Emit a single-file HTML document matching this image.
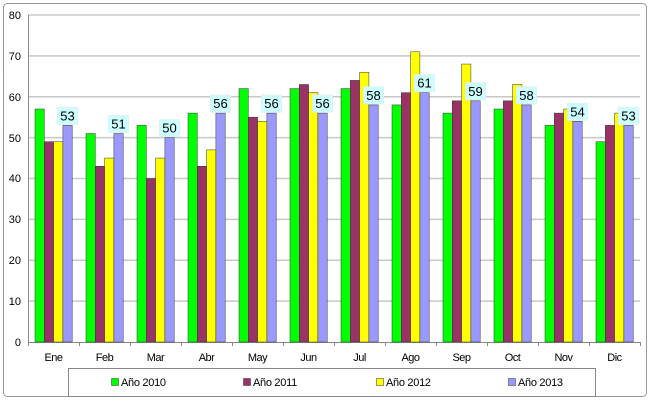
<!DOCTYPE html>
<html><head><meta charset="utf-8"><style>
body{margin:0;background:#fff;}
svg{display:block;font-family:"Liberation Sans",Arial,sans-serif;}
</style></head><body>
<svg id="s" width="650" height="401" viewBox="0 0 650 401">
<rect x="3.5" y="3.5" width="643" height="393" rx="4" fill="#fff" stroke="#999" stroke-width="1"/>
<g id="grid" stroke="#c8c8c8" stroke-width="1.5"></g>
<line x1="28.5" y1="15" x2="28.5" y2="342" stroke="#888"/>
<line x1="28" y1="342.5" x2="640" y2="342.5" stroke="#888"/>
<g id="bars"></g>
<g font-size="11" fill="#000" text-anchor="end">
<text x="21" y="346">0</text><text x="21" y="305">10</text><text x="21" y="264">20</text><text x="21" y="223">30</text><text x="21" y="182">40</text><text x="21" y="142">50</text><text x="21" y="101">60</text><text x="21" y="60">70</text><text x="21" y="19">80</text>
</g>
<g font-size="11" fill="#000" text-anchor="middle" letter-spacing="-0.5">
<text x="53.5" y="361">Ene</text><text x="104.5" y="361">Feb</text><text x="155.5" y="361">Mar</text><text x="206.5" y="361">Abr</text><text x="257.5" y="361">May</text><text x="308.5" y="361">Jun</text><text x="359.5" y="361">Jul</text><text x="410.5" y="361">Ago</text><text x="461.5" y="361">Sep</text><text x="512.5" y="361">Oct</text><text x="563.5" y="361">Nov</text><text x="614.5" y="361">Dic</text>
</g>
<g id="lbl" font-size="13" text-anchor="middle" fill="#000">
<text x="67.5" y="120.4">53</text><text x="118.5" y="128.5">51</text><text x="169.5" y="132.6">50</text><text x="220.5" y="108.1">56</text><text x="271.5" y="108.1">56</text><text x="322.5" y="108.1">56</text><text x="373.5" y="99.9">58</text><text x="424.5" y="87.7">61</text><text x="475.5" y="95.8">59</text><text x="526.5" y="99.9">58</text><text x="577.5" y="116.3">54</text><text x="628.5" y="120.4">53</text>
</g>
<rect x="68.5" y="368.5" width="527" height="28" fill="#fff" stroke="#888"/>
<g font-size="11" fill="#000" letter-spacing="-0.3">
<rect x="111.5" y="378.5" width="7" height="7" fill="#00ff00" stroke="#333" stroke-width="0.5"/><text x="121" y="386">Año 2010</text>
<rect x="243.5" y="378.5" width="7" height="7" fill="#993366" stroke="#333" stroke-width="0.5"/><text x="253" y="386">Año 2011</text>
<rect x="376.5" y="378.5" width="7" height="7" fill="#ffff00" stroke="#333" stroke-width="0.5"/><text x="386" y="386">Año 2012</text>
<rect x="508.5" y="378.5" width="7" height="7" fill="#9999ff" stroke="#333" stroke-width="0.5"/><text x="518" y="386">Año 2013</text>
</g>
</svg>
<script>
var d=[[57,51,53,56,62,62,62,58,56,57,53,49],[49,43,40,43,55,63,64,61,59,59,56,53],[49,45,45,47,54,61,66,71,68,63,57,56],[53,51,50,56,56,56,58,61,59,58,54,53]];
var c=["#00ff00","#993366","#ffff00","#9999ff"];
var ns="http://www.w3.org/2000/svg",g=document.getElementById("bars"),gr=document.getElementById("grid");
function el(p,t,a){var e=document.createElementNS(ns,t);for(var k in a)e.setAttribute(k,a[k]);p.appendChild(e);return e;}
for(var v=10;v<=80;v+=10){var y=342-4.0875*v;el(gr,"line",{x1:28,x2:640,y1:y,y2:y});}
for(var i=0;i<=12;i++){var x=28+51*i;el(gr,"line",{x1:x+0.5,x2:x+0.5,y1:342,y2:346,stroke:"#888","stroke-width":1});}
for(var i=0;i<12;i++)for(var s=0;s<4;s++){var h=4.0875*d[s][i];el(g,"rect",{x:35+51*i+9.3*s,y:342-h,width:9.3,height:h,fill:c[s],stroke:"#333","stroke-width":0.5});}
var L=document.getElementById("lbl"),ts=L.querySelectorAll("text");
ts.forEach(function(t){var x=+t.getAttribute("x"),y=+t.getAttribute("y");var r=el(L,"rect",{x:x-10,y:y-13,width:20,height:17,fill:"#ccffff",stroke:"#e0f0f0"});L.insertBefore(r,L.firstChild);});
</script>
</body></html>
